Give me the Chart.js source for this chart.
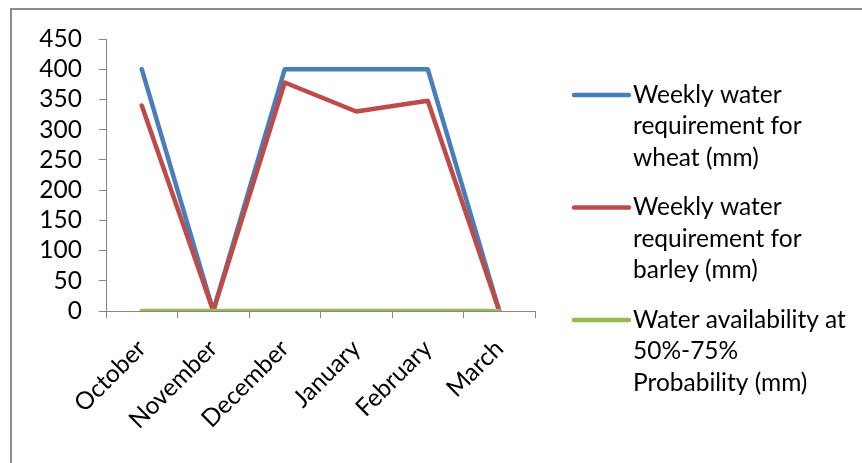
<!DOCTYPE html>
<html>
<head>
<meta charset="utf-8">
<script src="https://cdn.jsdelivr.net/npm/chart.js@4/dist/chart.umd.min.js"></script>
<style>
  html, body { margin: 0; padding: 0; background: #fff; }
  #wrap { position: relative; width: 862px; height: 463px; }
</style>
</head>
<body>
<div id="wrap"><canvas id="c" width="862" height="463"></canvas></div>
<script>
// Months of the cropping season
const months = ['October', 'November', 'December', 'January', 'February', 'March'];

// Weekly water requirement, mm
const wheatNeed = [400, 0, 400, 400, 400, 0];
const barleyNeed = [340, 0, 378, 330, 348, 0];
// Water available at 50%-75% probability, mm
const waterAvailable = [0, 0, 0, 0, 0, 0];

const seriesNames = [
  'Weekly water requirement for wheat (mm)',
  'Weekly water requirement for barley (mm)',
  'Water availability at 50%-75% Probability (mm)'
];
// Line breaks used in the legend
const legendLines = [
  ['Weekly water', 'requirement for', 'wheat (mm)'],
  ['Weekly water', 'requirement for', 'barley (mm)'],
  ['Water availability at', '50%-75%', 'Probability (mm)']
];

const yTicks = { min: 0, max: 450, step: 50 };

const FONT = 'Lato';
const FONT_SIZE = 24.5;
const AXIS_GREY = '#868686';

// Frame around the chart (only the top and left edges fall inside the canvas)
const framePlugin = {
  id: 'frame',
  beforeDraw(chart) {
    const ctx = chart.ctx;
    ctx.save();
    ctx.strokeStyle = '#8c8c8c';
    ctx.lineWidth = 2;
    ctx.beginPath();
    ctx.moveTo(11, chart.height + 5);
    ctx.lineTo(11, 9);
    ctx.lineTo(chart.width + 5, 9);
    ctx.stroke();
    ctx.restore();
  }
};

// Legend on the right with wrapped labels
const sideLegend = {
  id: 'sideLegend',
  afterDraw(chart) {
    const ctx = chart.ctx;
    const x0 = 574, x1 = 629, tx = 633;
    const firstY = 95, itemGap = 112.5, lineH = 31.5;
    ctx.save();
    ctx.font = FONT_SIZE + 'px ' + FONT;
    ctx.textBaseline = 'middle';
    ctx.textAlign = 'left';
    chart.data.datasets.forEach((ds, i) => {
      const y = firstY + i * itemGap;
      ctx.strokeStyle = ds.borderColor;
      ctx.lineWidth = 4.5;
      ctx.lineCap = 'round';
      ctx.beginPath();
      ctx.moveTo(x0, y);
      ctx.lineTo(x1, y);
      ctx.stroke();
      ctx.fillStyle = '#000';
      legendLines[i].forEach((line, k) => {
        ctx.fillText(line, tx, y + k * lineH);
      });
    });
    ctx.restore();
  }
};

Chart.defaults.font.family = FONT;
Chart.defaults.font.size = FONT_SIZE;
Chart.defaults.color = '#000';

new Chart(document.getElementById('c'), {
  type: 'line',
  data: {
    labels: months,
    datasets: [
      { label: seriesNames[0], data: wheatNeed, borderColor: '#4a7ebb', order: 2 },
      { label: seriesNames[1], data: barleyNeed, borderColor: '#be4b48', order: 1 },
      { label: seriesNames[2], data: waterAvailable, borderColor: '#98b954', order: 0 }
    ].map(d => Object.assign(d, {
      borderWidth: 4.5,
      pointRadius: 0,
      pointHoverRadius: 0,
      tension: 0,
      fill: false,
      borderJoinStyle: 'round',
      borderCapStyle: 'round'
    }))
  },
  options: {
    responsive: false,
    animation: false,
    devicePixelRatio: 1,
    layout: { padding: { top: 39, right: 327, bottom: 0, left: 0 } },
    plugins: { legend: { display: false }, tooltip: { enabled: false } },
    scales: {
      x: {
        offset: true,
        grid: { offset: true, drawOnChartArea: false, tickLength: 7, color: AXIS_GREY },
        border: { color: AXIS_GREY },
        ticks: { minRotation: 45, maxRotation: 45, padding: 16, labelOffset: 0, autoSkip: false },
        afterFit(scale) { scale.height = 152; }
      },
      y: {
        min: yTicks.min,
        max: yTicks.max,
        grid: { drawOnChartArea: false, tickLength: 7, color: AXIS_GREY },
        border: { color: AXIS_GREY },
        ticks: { stepSize: yTicks.step, padding: 17, autoSkip: false },
        afterFit(scale) { scale.width = 106; }
      }
    }
  },
  plugins: [framePlugin, sideLegend]
});
</script>
</body>
</html>
